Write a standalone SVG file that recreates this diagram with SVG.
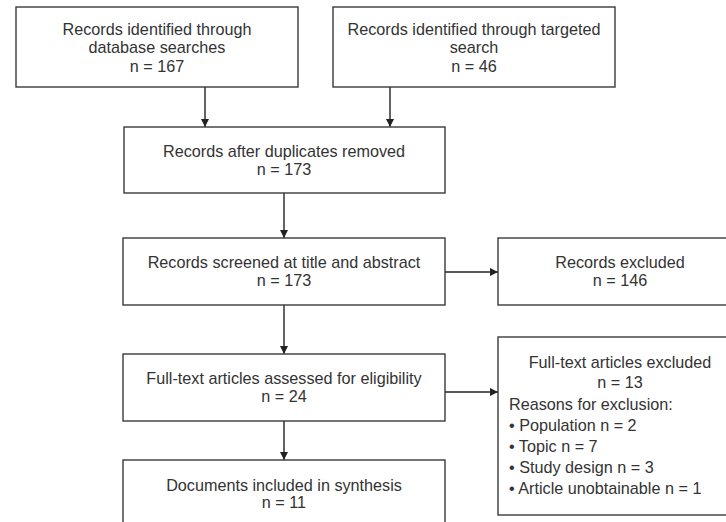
<svg xmlns="http://www.w3.org/2000/svg" width="726" height="522" viewBox="0 0 726 522">
<defs>
<marker id="ah" viewBox="0 0 10 10" refX="10" refY="5" markerWidth="8" markerHeight="8" markerUnits="userSpaceOnUse" orient="auto">
<path d="M0,0 L10,5 L0,10 z" fill="#222"/>
</marker>
<style>
.box{fill:#fff;stroke:#3a3a3a;stroke-width:1.4}
.t{font-family:"Liberation Sans",Arial,sans-serif;font-size:16.2px;fill:#333;text-anchor:middle}
.l{font-family:"Liberation Sans",Arial,sans-serif;font-size:16.2px;fill:#333}
.c{stroke:#222;stroke-width:1.4;fill:none;marker-end:url(#ah)}
</style>
</defs>
<rect width="726" height="522" fill="#fff"/>
<g id="connectors">
<line class="c" x1="205" y1="87" x2="205" y2="127"/>
<line class="c" x1="390" y1="87" x2="390" y2="127"/>
<line class="c" x1="284" y1="193" x2="284" y2="238"/>
<line class="c" x1="284" y1="305" x2="284" y2="354"/>
<line class="c" x1="284" y1="421" x2="284" y2="460"/>
<line class="c" x1="445" y1="272" x2="498" y2="272"/>
<line class="c" x1="445" y1="392" x2="498" y2="392"/>
</g>
<g id="db">
<rect class="box" x="16" y="7" width="282" height="80"/>
<text class="t" x="157" y="35">Records identified through</text>
<text class="t" x="157" y="53">database searches</text>
<text class="t" x="157" y="72">n = 167</text>
</g>
<g id="targeted">
<rect class="box" x="333" y="7" width="282" height="80"/>
<text class="t" x="474" y="35">Records identified through targeted</text>
<text class="t" x="474" y="53">search</text>
<text class="t" x="474" y="72">n = 46</text>
</g>
<g id="dedup">
<rect class="box" x="124" y="127" width="321" height="66"/>
<text class="t" x="284" y="157">Records after duplicates removed</text>
<text class="t" x="284" y="175">n = 173</text>
</g>
<g id="screened">
<rect class="box" x="123" y="238" width="322" height="67"/>
<text class="t" x="284" y="268">Records screened at title and abstract</text>
<text class="t" x="284" y="286">n = 173</text>
</g>
<g id="excluded">
<rect class="box" x="498" y="238" width="244" height="67"/>
<text class="t" x="620" y="268">Records excluded</text>
<text class="t" x="620" y="286">n = 146</text>
</g>
<g id="fulltext">
<rect class="box" x="123" y="354" width="322" height="67"/>
<text class="t" x="284" y="384">Full-text articles assessed for eligibility</text>
<text class="t" x="284" y="402">n = 24</text>
</g>
<g id="ftexcluded">
<rect class="box" x="498" y="337" width="244" height="178"/>
<text class="t" x="620" y="368">Full-text articles excluded</text>
<text class="t" x="620" y="388">n = 13</text>
<text class="l" x="509" y="410">Reasons for exclusion:</text>
<text class="l" x="509" y="431">• Population n = 2</text>
<text class="l" x="509" y="452">• Topic n = 7</text>
<text class="l" x="509" y="473">• Study design n = 3</text>
<text class="l" x="509" y="494">• Article unobtainable n = 1</text>
</g>
<g id="included">
<rect class="box" x="123" y="460" width="322" height="80"/>
<text class="t" x="284" y="491">Documents included in synthesis</text>
<text class="t" x="284" y="508">n = 11</text>
</g>
</svg>
